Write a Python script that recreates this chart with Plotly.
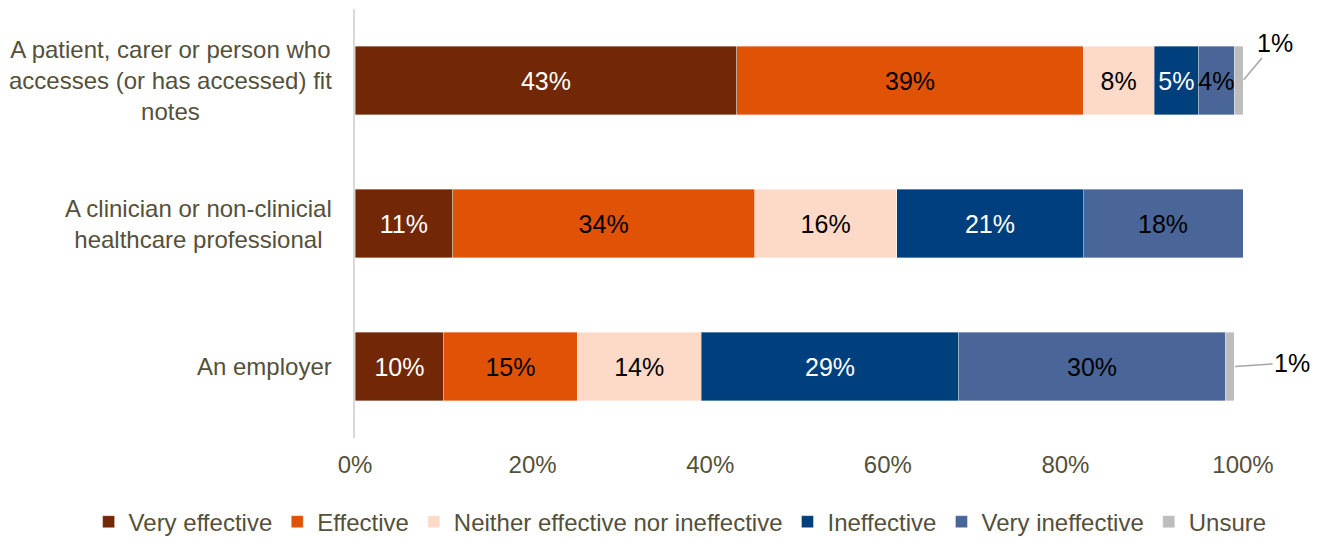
import plotly.graph_objects as go

# Respondent groups (top to bottom)
groups = [
    "A patient, carer or person who<br>accesses (or has accessed) fit<br>notes",
    "A clinician or non-clinicial<br>healthcare professional",
    "An employer",
]
group_keys = ["patient", "clinician", "employer"]

# Share of responses per rating (%)
very_effective = [43, 11, 10]
effective = [39, 34, 15]
neither = [8, 16, 14]
ineffective = [5, 21, 29]
very_ineffective = [4, 18, 30]
unsure = [1, 0.4, 1]
unsure_labels = ["1%", "", "1%"]

tick_values = [0, 20, 40, 60, 80, 100]
tick_labels = ["0%", "20%", "40%", "60%", "80%", "100%"]

series = [
    ("Very effective", very_effective, "#722806", "white"),
    ("Effective", effective, "#E05206", "black"),
    ("Neither effective nor ineffective", neither, "#FDDAC8", "black"),
    ("Ineffective", ineffective, "#003F7D", "white"),
    ("Very ineffective", very_ineffective, "#4A6698", "black"),
    ("Unsure", unsure, "#BDBDBD", "black"),
]

FONT = "Liberation Sans, Arial, sans-serif"
LABEL_COLOR = "#555039"

fig = go.Figure()
for name, vals, color, txtcolor in series:
    if name == "Unsure":
        txt = [""] * len(vals)
    else:
        txt = [f"{v:g}%" for v in vals]
    fig.add_trace(go.Bar(
        name=name,
        y=group_keys,
        x=vals,
        orientation="h",
        marker=dict(color=color, line=dict(color="rgba(255,255,255,0.6)", width=0.6)),
        text=txt,
        textposition="inside",
        insidetextanchor="middle",
        textangle=0,
        textfont=dict(family=FONT, size=25, color=txtcolor),
        hoverinfo="skip",
    ))

# Category labels, centred multi-line text left of the axis
for key, label in zip(group_keys, groups):
    fig.add_annotation(
        x=0, xref="paper", y=key, yref="y",
        text=label, showarrow=False,
        xanchor="right", align="center", xshift=-21,
        font=dict(family=FONT, size=24, color=LABEL_COLOR),
    )

# Leader-line labels for the thin "Unsure" segments
totals = [sum(s[1][i] for s in series) for i in range(len(group_keys))]
offsets = {0: (32, -38), 2: (58, -4)}
for i, (ax, ay) in offsets.items():
    fig.add_annotation(
        x=totals[i], y=group_keys[i], xref="x", yref="y",
        text=unsure_labels[i], showarrow=True,
        arrowhead=0, arrowwidth=1.5, arrowcolor="#A6A6A6",
        ax=ax, ay=ay, standoff=1,
        font=dict(family=FONT, size=25, color="black"),
    )

fig.update_layout(
    barmode="stack",
    bargap=0.52,
    width=1323, height=539,
    margin=dict(l=355, r=80, t=9, b=101, autoexpand=False),
    paper_bgcolor="white", plot_bgcolor="white",
    font=dict(family=FONT, size=24, color=LABEL_COLOR),
    uniformtext=dict(minsize=25, mode="show"),
    showlegend=True,
    legend=dict(
        orientation="h",
        x=-0.300, xanchor="left", y=-0.196, yanchor="middle",
        font=dict(family=FONT, size=24, color=LABEL_COLOR),
        traceorder="normal", itemwidth=30, tracegroupgap=0,
    ),
    xaxis=dict(
        range=[0, 100], tickvals=tick_values, ticktext=tick_labels,
        showgrid=False, zeroline=False, showline=False,
        tickfont=dict(family=FONT, size=24, color=LABEL_COLOR),
        ticklabelstandoff=10, fixedrange=True,
    ),
    yaxis=dict(
        categoryorder="array", categoryarray=group_keys, autorange="reversed",
        showticklabels=False, showgrid=False, zeroline=False,
        showline=True, linecolor="#D9D9D9", linewidth=2,
        fixedrange=True,
    ),
)

fig.write_html("out.html")
